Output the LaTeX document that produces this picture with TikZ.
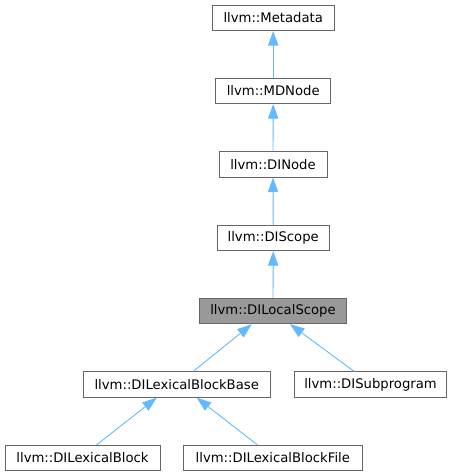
\documentclass[tikz,border=0pt]{standalone}
\usepackage{fontspec}
\setmainfont{DejaVu Sans}
\usetikzlibrary{arrows.meta}
\definecolor{edgeblue}{HTML}{63B8FF}
\definecolor{boxgray}{HTML}{666666}
\definecolor{hlgray}{HTML}{999999}
\begin{document}
\begin{tikzpicture}[x=1bp,y=-1bp,
  cls/.style={draw=boxgray, line width=0.9bp, fill=white, minimum height=25.5bp, inner sep=0pt,
    font=\fontsize{13.2bp}{15bp}\selectfont, text=black},
  hl/.style={cls, fill=hlgray},
  inh/.style={draw=edgeblue, line width=0.9bp, {Triangle[length=14.5bp,width=10.3bp,fill=edgeblue]}-}]
\useasboundingbox (0,0) rectangle (452,476);
\node[cls, minimum width=121.7bp] (meta) at (273.2,17.9) {llvm::Metadata};
\node[cls, minimum width=115bp] (md) at (273.2,91) {llvm::MDNode};
\node[cls, minimum width=108bp] (din) at (273,164.5) {llvm::DINode};
\node[cls, minimum width=111.7bp] (dis) at (273.2,238) {llvm::DIScope};
\node[hl, minimum width=147.4bp] (dls) at (273,311) {llvm::DILocalScope};
\node[cls, minimum width=186.7bp] (lbb) at (176.7,384.5) {llvm::DILexicalBlockBase};
\node[cls, minimum width=152.4bp] (sub) at (370.5,384.5) {llvm::DISubprogram};
\node[cls, minimum width=155bp] (lb) at (82.5,458) {llvm::DILexicalBlock};
\node[cls, minimum width=179bp] (lbf) at (272.8,458) {llvm::DILexicalBlockFile};
\draw[inh] (meta.south) -- (md.north);
\draw[inh] (md.south) -- (din.north);
\draw[inh] (din.south) -- (dis.north);
\draw[inh] (dis.south) -- (dls.north);
\draw[inh] ([xshift=-21.3bp]dls.south) -- ([xshift=16.6bp]lbb.north);
\draw[inh] ([xshift=17bp]dls.south) -- ([xshift=-16.5bp]sub.north);
\draw[inh] ([xshift=-20bp]lbb.south) -- ([xshift=14.2bp]lb.north);
\draw[inh] ([xshift=20bp]lbb.south) -- ([xshift=-15.5bp]lbf.north);
\end{tikzpicture}
\end{document}
